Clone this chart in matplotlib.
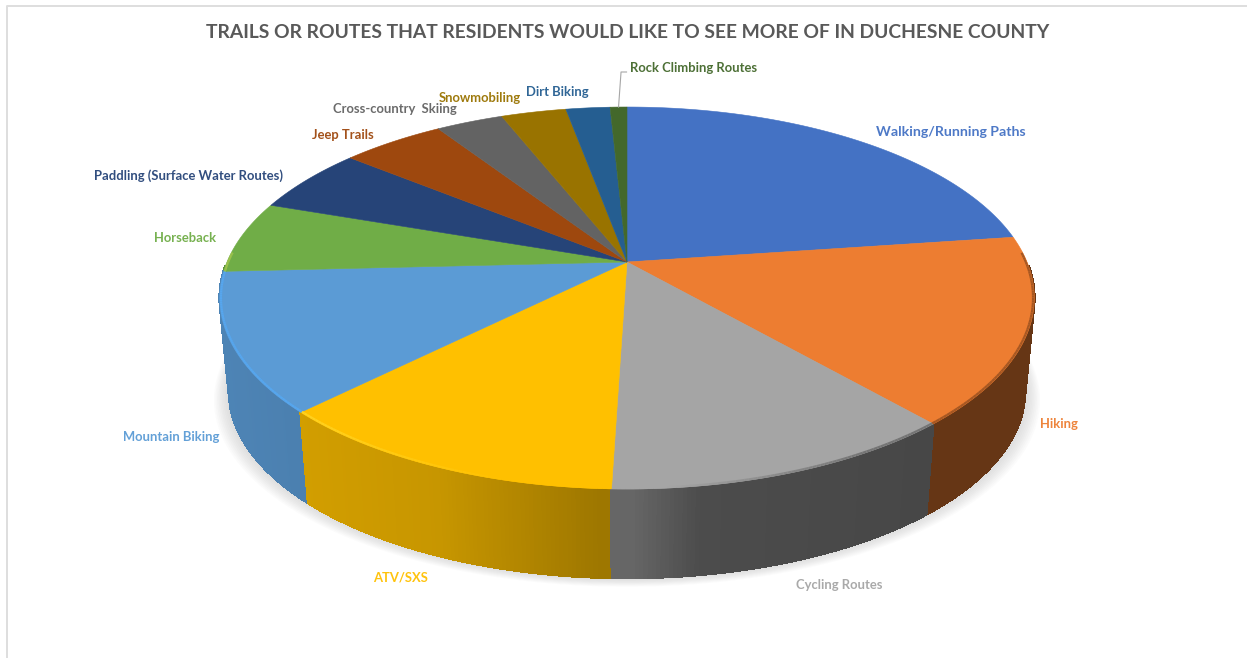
import numpy as np
import matplotlib
matplotlib.use("Agg")
import matplotlib.pyplot as plt
from matplotlib.collections import PolyCollection, LineCollection
from matplotlib.colors import to_rgb

title = "TRAILS OR ROUTES THAT RESIDENTS WOULD LIKE TO SEE MORE OF IN DUCHESNE COUNTY"
categories = ["Walking/Running Paths", "Hiking", "Cycling Routes", "ATV/SXS", "Mountain Biking",
              "Horseback", "Paddling (Surface Water Routes)", "Jeep Trails", "Cross-country  Skiing",
              "Snowmobiling", "Dirt Biking", "Rock Climbing Routes"]
shares = [22.8, 15.8, 11.9, 12.0, 11.7, 6.1, 5.6, 4.9, 3.2, 3.1, 2.1, 0.8]
colors = ["#4472C4", "#ED7D31", "#A5A5A5", "#FFC000", "#5B9BD5", "#70AD47",
          "#264478", "#9E480E", "#636363", "#997300", "#255E91", "#43682B"]
label_x = [951, 1059, 839, 401, 171, 185, 189, 343, 395, 480, 557, 694]
label_y = [132, 424, 585, 577, 437, 238, 176, 135, 109, 98, 92, 68]

# Perspective model of the disc, in pixel units
CX, CY = 627.0, 262.0
RADIUS, DEPTH, TILT = 400.0, 184.2, 0.1885
FLOOR_SCALE, FLOOR_Y = 0.977, 356.2


def project(theta, radius=1.0, floor=False):
    """Map a clockwise-from-top angle on the disc to figure pixels."""
    x = radius * np.sin(theta)
    z = radius * np.cos(theta)
    s = 1.0 / (1.0 + TILT * z)
    px = RADIUS * x * s
    py = -DEPTH * z * s
    if floor:
        return CX + FLOOR_SCALE * px, FLOOR_Y + FLOOR_SCALE * py
    return CX + px, CY + py


def side_shade(x):
    return np.interp(x, [225, 310, 440, 600, 630, 700, 930, 1035],
                     [0.85, 0.82, 0.78, 0.62, 0.62, 0.46, 0.43, 0.43])


fig = plt.figure(figsize=(12.47, 6.58), dpi=100, facecolor="white")
ax = fig.add_axes([0, 0, 1, 1])
ax.set_xlim(0, 1247)
ax.set_ylim(658, 0)
ax.axis("off")

# Chart frame: only the top and left edges are visible
ax.plot([6.5, 6.5, 1247], [658, 5.5, 5.5], color="#dedede", lw=1.4, zorder=1)

edges = np.radians(np.concatenate([[0], np.cumsum(shares)]) * 3.6)
full = np.linspace(0, 2 * np.pi, 720)

# Soft shadow under the disc
for grow in np.linspace(16, 1, 10):
    fx, fy = project(full, floor=True)
    ax.fill(CX + (fx - CX) * (1 + grow / 420), fy + grow * 0.55,
            color="#555555", alpha=0.02, lw=0, zorder=2)

# Side wall, thin quads painted from the back of the disc to the front
walls = []
for start, stop, color in zip(edges[:-1], edges[1:], colors):
    base = np.array(to_rgb(color))
    steps = np.linspace(start, stop, max(3, int(np.degrees(stop - start) * 2)))
    for a, b in zip(steps[:-1], steps[1:]):
        depth = np.cos((a + b) / 2)
        if depth > -0.02:
            continue
        xa, ya = project(a)
        xb, yb = project(b)
        xc, yc = project(b, floor=True)
        xd, yd = project(a, floor=True)
        walls.append((depth, [(xa, ya), (xb, yb), (xc, yc), (xd, yd)],
                      base * side_shade((xa + xb) / 2)))
walls.sort(key=lambda item: -item[0])
ax.add_collection(PolyCollection([w[1] for w in walls], facecolors=[w[2] for w in walls],
                                 edgecolors=[w[2] for w in walls], linewidths=1.2,
                                 antialiaseds=False, zorder=3))

# Top face of every slice
for start, stop, color in zip(edges[:-1], edges[1:], colors):
    t = np.linspace(start, stop, 200)
    px, py = project(t)
    ax.fill(np.r_[CX, px], np.r_[CY, py], color=color, lw=0.4, zorder=4)

# Bevel along the rim: bright on the left, dark on the right
segs, seg_colors = [], []
for start, stop, color in zip(edges[:-1], edges[1:], colors):
    base = np.array(to_rgb(color))
    t = np.linspace(start, stop, 80)
    px, py = project(t, radius=0.997)
    for i in range(len(t) - 1):
        mid = (t[i] + t[i + 1]) / 2
        if np.cos(mid) > 0.05:
            continue
        mx = (px[i] + px[i + 1]) / 2
        if mx < CX:
            w = np.clip((CX - 120 - mx) / 200, 0, 1) * 0.35
            tone = base + (np.array([1.0, 0.95, 0.35]) - base) * w
            if color == "#5B9BD5":
                tone = base + (np.array([0.33, 0.66, 0.96]) - base) * 0.8
        else:
            w = np.clip((mx - CX - 40) / 200, 0, 1) * 0.3
            tone = base * (1 - w)
        segs.append([(px[i], py[i]), (px[i + 1], py[i + 1])])
        seg_colors.append(np.clip(tone, 0, 1))
ax.add_collection(LineCollection(segs, colors=seg_colors, linewidths=1.6, zorder=5))

# Leader line for the thinnest slice
rock_angle = (edges[-2] + edges[-1]) / 2
lx, ly = project(rock_angle)
ax.plot([lx, lx + 2.5, lx + 8], [ly, 72, 72], color="#a6a6a6", lw=0.8, zorder=6)

for name, color, x, y in zip(categories, colors, label_x, label_y):
    size = 10.2 if name.startswith("Walking") else 9.4
    ax.text(x, y, name, color=color, family="Lato", weight="bold", fontsize=size,
            ha="center", va="center", zorder=7, alpha=0.95)

ax.text(627.5, 32, title, color="#595959", family="Lato", weight="bold", fontsize=13.9,
        ha="center", va="center", zorder=7)

fig.savefig("out.png", dpi=100, facecolor="white")
